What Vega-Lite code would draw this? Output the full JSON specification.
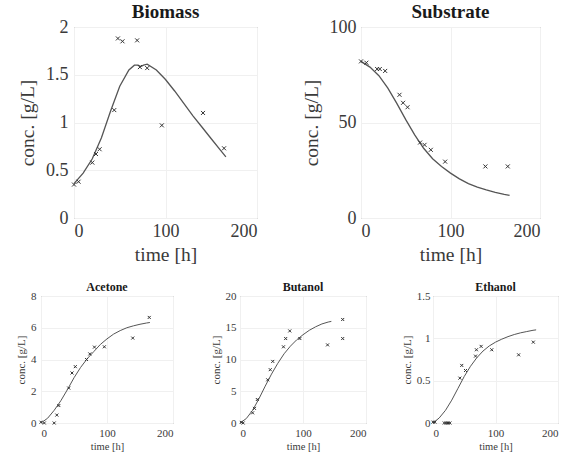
{
  "$schema": "https://vega.github.io/schema/vega-lite/v6.json",
  "background": "white",
  "padding": {"left": 15, "top": 2, "right": 2, "bottom": 2},
  "datasets": {
    "biomass_fit": [{"t":0,"c":0.36},{"t":10,"c":0.47},{"t":20,"c":0.62},{"t":30,"c":0.84},{"t":40,"c":1.12},{"t":50,"c":1.38},{"t":60,"c":1.55},{"t":66,"c":1.6},{"t":70,"c":1.6},{"t":73,"c":1.585},{"t":76,"c":1.6},{"t":80,"c":1.61},{"t":90,"c":1.55},{"t":100,"c":1.45},{"t":110,"c":1.33},{"t":120,"c":1.2},{"t":130,"c":1.07},{"t":140,"c":0.95},{"t":150,"c":0.83},{"t":160,"c":0.71},{"t":166,"c":0.64}],
    "biomass_obs": [{"t":0,"c":0.35},{"t":5,"c":0.38},{"t":20,"c":0.58},{"t":24,"c":0.67},{"t":28,"c":0.72},{"t":44,"c":1.13},{"t":48,"c":1.88},{"t":53,"c":1.85},{"t":69,"c":1.86},{"t":72,"c":1.58},{"t":80,"c":1.57},{"t":96,"c":0.97},{"t":141,"c":1.1},{"t":164,"c":0.73}],
    "substrate_fit": [{"t":0,"c":82},{"t":10,"c":79},{"t":20,"c":74.5},{"t":30,"c":68},{"t":40,"c":60},{"t":50,"c":51.5},{"t":60,"c":43.5},{"t":70,"c":36.5},{"t":80,"c":31},{"t":90,"c":27},{"t":100,"c":23.5},{"t":110,"c":20.5},{"t":120,"c":18},{"t":130,"c":16.2},{"t":140,"c":14.7},{"t":150,"c":13.4},{"t":160,"c":12.4},{"t":166,"c":11.9}],
    "substrate_obs": [{"t":0,"c":82},{"t":6,"c":81.3},{"t":18,"c":78},{"t":21,"c":78},{"t":27,"c":77},{"t":43,"c":64.5},{"t":47,"c":60.3},{"t":52,"c":58},{"t":66,"c":39.5},{"t":71,"c":38.3},{"t":78,"c":35.7},{"t":94,"c":29.5},{"t":139,"c":27},{"t":164,"c":27}],
    "acetone_fit": [{"t":0,"c":0},{"t":10,"c":0.3},{"t":20,"c":0.8},{"t":30,"c":1.4},{"t":40,"c":2.1},{"t":50,"c":2.85},{"t":60,"c":3.5},{"t":70,"c":4.05},{"t":80,"c":4.5},{"t":90,"c":4.95},{"t":100,"c":5.3},{"t":110,"c":5.6},{"t":120,"c":5.82},{"t":130,"c":6.0},{"t":140,"c":6.12},{"t":150,"c":6.22},{"t":160,"c":6.3},{"t":165,"c":6.33}],
    "acetone_obs": [{"t":0,"c":0.05},{"t":5,"c":0},{"t":20,"c":0},{"t":24,"c":0.5},{"t":27,"c":1.1},{"t":42,"c":2.2},{"t":47,"c":3.15},{"t":52,"c":3.55},{"t":69,"c":4.0},{"t":74,"c":4.35},{"t":81,"c":4.78},{"t":96,"c":4.8},{"t":139,"c":5.35},{"t":164,"c":6.65}],
    "butanol_fit": [{"t":0,"c":0},{"t":10,"c":0.7},{"t":20,"c":2.0},{"t":30,"c":3.8},{"t":40,"c":5.8},{"t":50,"c":7.7},{"t":60,"c":9.4},{"t":70,"c":10.9},{"t":80,"c":12.1},{"t":90,"c":13.1},{"t":100,"c":13.9},{"t":110,"c":14.6},{"t":120,"c":15.15},{"t":130,"c":15.6},{"t":140,"c":15.9},{"t":145,"c":16.0}],
    "butanol_obs": [{"t":2,"c":0.1},{"t":5,"c":0},{"t":20,"c":1.6},{"t":23,"c":2.3},{"t":27.5,"c":3.7},{"t":44,"c":6.8},{"t":48,"c":8.4},{"t":52,"c":9.7},{"t":69,"c":12.0},{"t":72.5,"c":13.3},{"t":79,"c":14.5},{"t":95,"c":13.3},{"t":139,"c":12.3},{"t":163,"c":13.3},{"t":163,"c":16.3}],
    "ethanol_fit": [{"t":0,"c":0},{"t":10,"c":0.06},{"t":20,"c":0.15},{"t":30,"c":0.27},{"t":40,"c":0.41},{"t":50,"c":0.55},{"t":60,"c":0.67},{"t":70,"c":0.77},{"t":80,"c":0.85},{"t":90,"c":0.91},{"t":100,"c":0.955},{"t":110,"c":0.99},{"t":120,"c":1.02},{"t":130,"c":1.045},{"t":140,"c":1.065},{"t":150,"c":1.08},{"t":160,"c":1.095},{"t":165,"c":1.1}],
    "ethanol_obs": [{"t":0,"c":0.01},{"t":3,"c":0.01},{"t":18,"c":0},{"t":21,"c":0},{"t":24,"c":0},{"t":27,"c":0},{"t":43,"c":0.53},{"t":46,"c":0.68},{"t":52,"c":0.62},{"t":68,"c":0.79},{"t":69.5,"c":0.865},{"t":77,"c":0.905},{"t":94,"c":0.865},{"t":137,"c":0.805},{"t":160.5,"c":0.955}]
  },
  "config": {
    "font": "Liberation Serif",
    "view": {"stroke": "#8a8a8a", "strokeWidth": 1},
    "axis": {"grid": true, "gridColor": "#f0f0f0", "ticks": false, "domain": false, "labelColor": "#3a3a3a", "titleColor": "#3a3a3a", "titleFontWeight": "normal", "labelFont": "Liberation Serif", "titleFont": "Liberation Serif", "format": "~f"},
    "title": {"font": "Liberation Serif", "fontWeight": "bold", "color": "#1a1a1a", "frame": "group"},
    "line": {"color": "#555", "strokeWidth": 1.3},
    "point": {"shape": "M-1,-1L1,1M-1,1L1,-1", "filled": false, "color": "#333", "strokeWidth": 1, "opacity": 1}
  },
  "spacing": 16,
  "bounds": "full",
  "vconcat": [
    {
      "bounds": "full",
      "spacing": 42,
      "hconcat": [
        {
          "bounds": "flush",
          "spacing": 32,
          "hconcat": [
            {"width": 1, "height": 1, "view": {"stroke": null}, "data": {"values": []}, "mark": "point", "encoding": {}},
            {
              "title": {"text": "Biomass", "fontSize": 19, "offset": -4, "frame": "group"},
              "width": 183, "height": 191,
              "encoding": {
                "x": {"field": "t", "type": "quantitative", "scale": {"domain": [0, 200]}, "axis": {"values": [0, 100, 200], "title": "time [h]", "labelFontSize": 18, "titleFontSize": 19.5, "labelPadding": 4, "titlePadding": 5}},
                "y": {"field": "c", "type": "quantitative", "scale": {"domain": [0, 2]}, "axis": {"values": [0, 0.5, 1, 1.5, 2], "title": "conc. [g/L]", "labelFontSize": 18, "titleFontSize": 19.5, "labelPadding": 6, "titlePadding": 8}}
              },
              "layer": [
                {"data": {"name": "biomass_fit"}, "mark": {"type": "line"}},
                {"data": {"name": "biomass_obs"}, "mark": {"type": "point", "size": 16}}
              ]
            }
          ]
        },
        {
          "title": {"text": "Substrate", "fontSize": 19, "offset": -4, "frame": "group"},
          "width": 179, "height": 191,
          "encoding": {
            "x": {"field": "t", "type": "quantitative", "scale": {"domain": [0, 200]}, "axis": {"values": [0, 100, 200], "title": "time [h]", "labelFontSize": 18, "titleFontSize": 19.5, "labelPadding": 4, "titlePadding": 5}},
            "y": {"field": "c", "type": "quantitative", "scale": {"domain": [0, 100]}, "axis": {"values": [0, 50, 100], "title": "conc. [g/L]", "labelFontSize": 18, "titleFontSize": 19.5, "labelPadding": 5, "titlePadding": 8}}
          },
          "layer": [
            {"data": {"name": "substrate_fit"}, "mark": {"type": "line"}},
            {"data": {"name": "substrate_obs"}, "mark": {"type": "point", "size": 16}}
          ]
        }
      ]
    },
    {
      "bounds": "flush",
      "spacing": 67,
      "hconcat": [
        {
          "title": {"text": "Acetone", "fontSize": 12, "offset": -4, "frame": "group"},
          "width": 132, "height": 127,
          "encoding": {
            "x": {"field": "t", "type": "quantitative", "scale": {"domain": [0, 200]}, "axis": {"values": [0, 100, 200], "title": "time [h]", "labelFontSize": 11, "titleFontSize": 10.5, "labelPadding": 4, "titlePadding": 3}},
            "y": {"field": "c", "type": "quantitative", "scale": {"domain": [0, 8]}, "axis": {"values": [0, 2, 4, 6, 8], "title": "conc. [g/L]", "labelFontSize": 11, "titleFontSize": 11, "labelPadding": 5, "titlePadding": 4}}
          },
          "layer": [
            {"data": {"name": "acetone_fit"}, "mark": {"type": "line", "strokeWidth": 1}},
            {"data": {"name": "acetone_obs"}, "mark": {"type": "point", "size": 9}}
          ]
        },
        {
          "title": {"text": "Butanol", "fontSize": 12, "offset": -4, "frame": "group"},
          "width": 126, "height": 127,
          "encoding": {
            "x": {"field": "t", "type": "quantitative", "scale": {"domain": [0, 200]}, "axis": {"values": [0, 100, 200], "title": "time [h]", "labelFontSize": 11, "titleFontSize": 10.5, "labelPadding": 4, "titlePadding": 3}},
            "y": {"field": "c", "type": "quantitative", "scale": {"domain": [0, 20]}, "axis": {"values": [0, 5, 10, 15, 20], "title": "conc. [g/L]", "labelFontSize": 11, "titleFontSize": 11, "labelPadding": 4, "titlePadding": 4}}
          },
          "layer": [
            {"data": {"name": "butanol_fit"}, "mark": {"type": "line", "strokeWidth": 1}},
            {"data": {"name": "butanol_obs"}, "mark": {"type": "point", "size": 9}}
          ]
        },
        {
          "title": {"text": "Ethanol", "fontSize": 12, "offset": -4, "frame": "group"},
          "width": 125, "height": 127,
          "encoding": {
            "x": {"field": "t", "type": "quantitative", "scale": {"domain": [0, 200]}, "axis": {"values": [0, 100, 200], "title": "time [h]", "labelFontSize": 11, "titleFontSize": 10.5, "labelPadding": 4, "titlePadding": 3}},
            "y": {"field": "c", "type": "quantitative", "scale": {"domain": [0, 1.5]}, "axis": {"values": [0, 0.5, 1, 1.5], "title": "conc. [g/L]", "labelFontSize": 11, "titleFontSize": 11, "labelPadding": 3, "titlePadding": 4}}
          },
          "layer": [
            {"data": {"name": "ethanol_fit"}, "mark": {"type": "line", "strokeWidth": 1}},
            {"data": {"name": "ethanol_obs"}, "mark": {"type": "point", "size": 9}}
          ]
        }
      ]
    }
  ]
}
